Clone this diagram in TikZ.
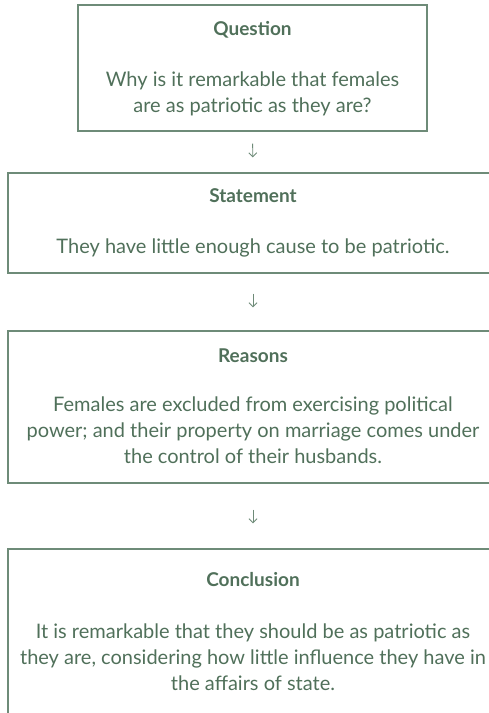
\documentclass[tikz,border=0pt]{standalone}
\usepackage{fontspec}
\setmainfont{Lato}
\usetikzlibrary{arrows.meta}
\definecolor{txt}{HTML}{50705A}
\definecolor{edge}{HTML}{6E8B78}
\begin{document}
\begin{tikzpicture}[x=1pt,y=-1pt,
  box/.style={draw=edge, line width=1.3pt, inner sep=0pt},
  head/.style={text=txt, inner sep=0pt, font=\bfseries\fontsize{19}{22}\selectfont},
  body/.style={text=txt, inner sep=0pt, align=center, font=\fontsize{20}{26}\selectfont},
  conn/.style={draw=edge, line width=0.9pt, -{Straight Barb[length=4pt,width=8pt]}}]
\useasboundingbox (0,0) rectangle (489,713);
\clip (0,0) rectangle (489,713);
% boxes
\node[box, minimum width=349pt, minimum height=126pt] (q) at (252.5,68) {};
\node[box, minimum width=490pt, minimum height=100pt] (s) at (253,223) {};
\node[box, minimum width=490pt, minimum height=152pt] (r) at (253,407) {};
\node[box, minimum width=490pt, minimum height=211pt] (c) at (253,654.5) {};
% texts
\node[head] (qh) at (252.5,30) {Question};
\node[body] (qb) at (252.5,93.5) {Why is it remarkable that females\\are as patriotic as they are?};
\node[head] (sh) at (253,196) {Statement};
\node[body] (sb) at (253,248) {They have little enough cause to be patriotic.};
\node[head] (rh) at (253,356) {Reasons};
\node[body] (rb) at (253,430) {Females are excluded from exercising political\\power; and their property on marriage comes under\\the control of their husbands.};
\node[head] (ch) at (253,580) {Conclusion};
\node[body] (cb) at (253,657.5) {It is remarkable that they should be as patriotic as\\they are, considering how little influence they have in\\the affairs of state.};
% connectors
\draw[conn, shorten <=12pt, shorten >=15pt] (q.south) -- (s.north);
\draw[conn, shorten <=20pt, shorten >=23pt] (s.south) -- (r.north);
\draw[conn, shorten <=26pt, shorten >=25pt] (r.south) -- (c.north);
\end{tikzpicture}
\end{document}
